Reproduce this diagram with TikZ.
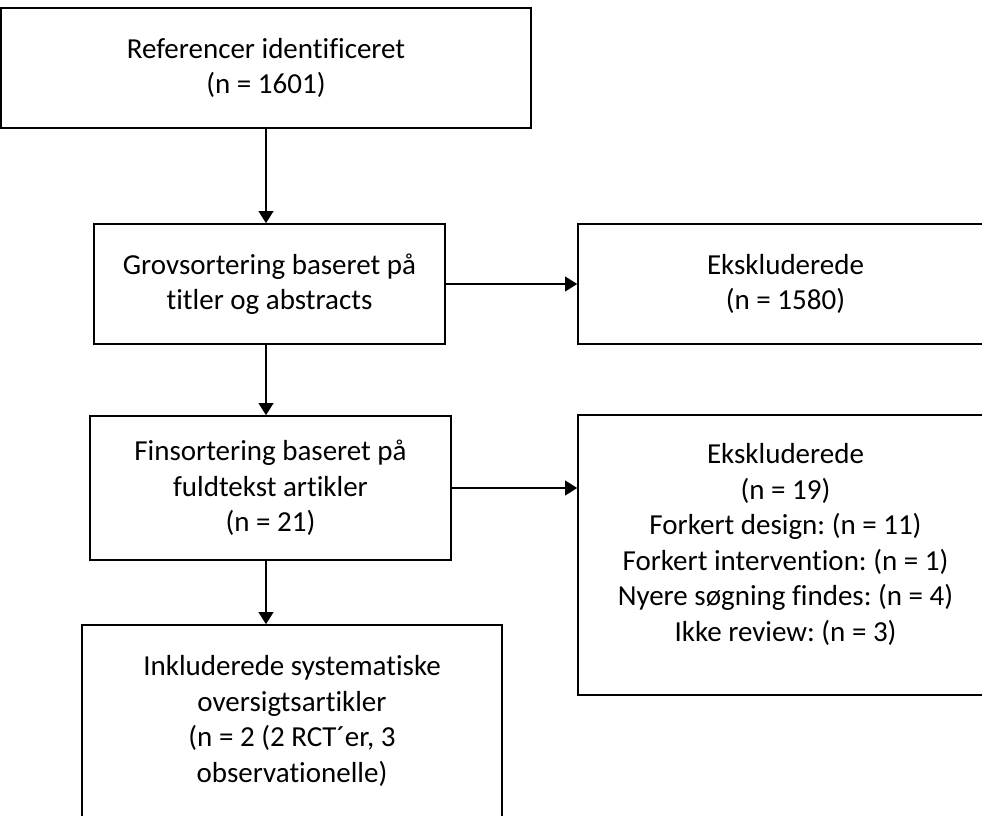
\documentclass[tikz,border=0pt]{standalone}
\usepackage{fontspec}
\setmainfont{Carlito}[Ligatures=NoCommon]
\usetikzlibrary{arrows.meta}
\newcommand{\boxfont}{\frenchspacing\fontsize{21.75}{26.6}\selectfont}
\newcommand{\pxu}{0.75pt}

\begin{document}
\begin{tikzpicture}[x=0.75pt,y=-0.75pt]

\tikzset{flowbox/.style={draw=black,line width=1.2pt,fill=white,align=center,inner sep=0pt,font=\boxfont},
arr/.style={-{Triangle[width=11pt,length=9pt]},line width=1.2pt}}

% Canvas
\useasboundingbox (0,0) rectangle (982,815);
\clip (0,0) rectangle (982,815);

% Main column
\node[flowbox,minimum width=530*\pxu,minimum height=120*\pxu] (refs) at (266,68) {Referencer identificeret\\(n = 1601)};
\node[flowbox,minimum width=351*\pxu,minimum height=120*\pxu] (grov) at (269.5,284) {Grovsortering baseret på\\titler og abstracts};
\node[flowbox,minimum width=361*\pxu,minimum height=144*\pxu] (fin) at (270.5,488) {Finsortering baseret på\\fuldtekst artikler\\(n = 21)};
\node[flowbox,minimum width=420*\pxu,minimum height=192*\pxu] (inkl) at (292,721) {Inkluderede systematiske\\oversigtsartikler\\(n = 2 (2 RCT´er, 3\\observationelle)};

% Excluded boxes
\node[flowbox,minimum width=415*\pxu,minimum height=120*\pxu] (eks1) at (785.5,284) {Ekskluderede\\(n = 1580)};
\node[flowbox,minimum width=415*\pxu,minimum height=280*\pxu,text depth=19pt] (eks2) at (785.5,555) {Ekskluderede\\(n = 19)\\Forkert design: (n = 11)\\Forkert intervention: (n = 1)\\Nyere søgning findes: (n = 4)\\Ikke review: (n = 3)};

% Arrows down
\draw[arr] (refs.south) -- (refs.south |- grov.north);
\draw[arr] (grov.south -| refs.south) -- (fin.north -| refs.south);
\draw[arr] (fin.south -| refs.south) -- (inkl.north -| refs.south);

% Arrows right
\draw[arr] (grov.east) -- (eks1.west);
\draw[arr] (fin.east) -- (fin.east -| eks2.west);

\end{tikzpicture}
\end{document}
